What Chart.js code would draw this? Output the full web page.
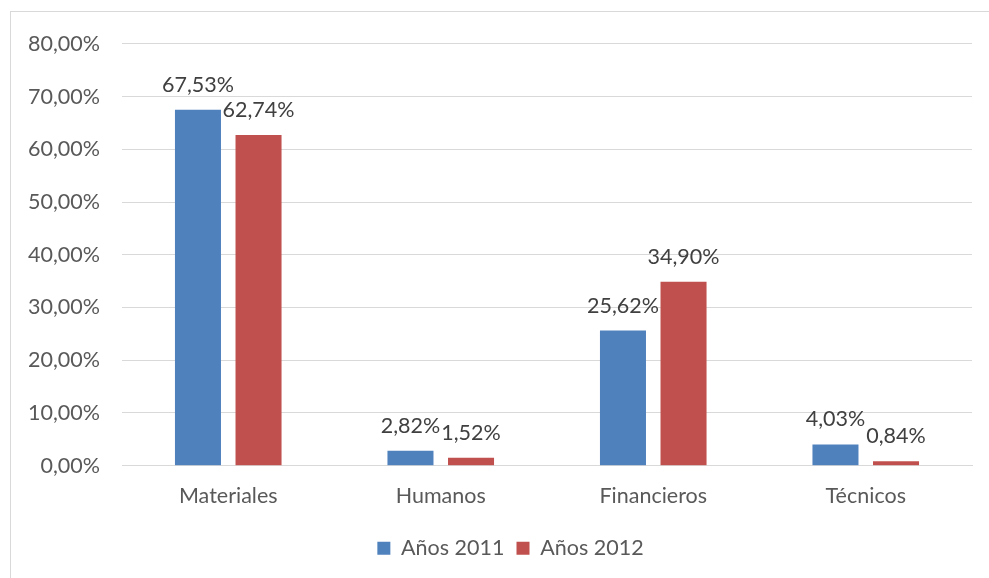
<!DOCTYPE html>
<html>
<head>
<meta charset="utf-8">
<script src="https://cdn.jsdelivr.net/npm/chart.js@4"></script>
<style>
  body { margin: 0; background: #fff; }
  #frame {
    position: absolute; left: 10px; top: 11px;
    width: 990px; height: 580px;
    border: 1px solid #d9d9d9;
  }
  #wrap { position: absolute; left: 0; top: -3px; width: 978px; height: 566px; }
</style>
</head>
<body>
<div id="frame">
  <div id="wrap"><canvas id="myChart"></canvas></div>
</div>
<script>
const categories = ['Materiales', 'Humanos', 'Financieros', 'Técnicos']
const years2011 = [67.53, 2.82, 25.62, 4.03]
const years2012 = [62.74, 1.52, 34.90, 0.84]
const seriesNames = ['Años 2011', 'Años 2012']

function fmt(v, digits) {
    return v.toFixed(digits).replace('.', ',') + '%'
}

// labels above each bar, like Excel data labels
const valueLabels = {
    id: 'valueLabels',
    afterDatasetsDraw: function(chart) {
        const ctx = chart.ctx
        ctx.save()
        ctx.font = '21.5px Lato'
        ctx.fillStyle = '#404040'
        ctx.textAlign = 'center'
        ctx.textBaseline = 'middle'
        chart.data.datasets.forEach(function(ds, i) {
            chart.getDatasetMeta(i).data.forEach(function(bar, j) {
                ctx.fillText(fmt(ds.data[j], 2), bar.x, bar.y - 25)
            })
        })
        ctx.restore()
    }
}

// legend sits a bit right of centre in the original
const legendShift = {
    id: 'legendShift',
    afterLayout: function(chart) {
        chart.legend.left += 19
        chart.legend.right += 19
    }
}

const ctx = document.getElementById('myChart').getContext('2d')
new Chart(ctx, {
    type: 'bar',
    data: {
        labels: categories,
        datasets: [{
            label: seriesNames[0],
            data: years2011,
            backgroundColor: '#4F81BD'
        }, {
            label: seriesNames[1],
            data: years2012,
            backgroundColor: '#C0504D'
        }]
    },
    options: {
        responsive: true,
        maintainAspectRatio: false,
        animation: false,
        categoryPercentage: 0.57,
        barPercentage: 0.76,
        layout: {
            padding: { left: 0, right: 17, top: 15, bottom: 6 }
        },
        scales: {
            y: {
                min: 0,
                max: 80,
                ticks: {
                    stepSize: 10,
                    padding: 22,
                    color: '#595959',
                    font: { family: 'Lato', size: 21.5 },
                    callback: function(v) { return fmt(v, 2) }
                },
                grid: { color: '#d9d9d9', drawTicks: false },
                border: { display: false },
                afterFit: function(axis) { axis.width = 111 }
            },
            x: {
                ticks: {
                    padding: 17,
                    color: '#595959',
                    font: { family: 'Lato', size: 21.5 }
                },
                grid: { display: false, drawTicks: false },
                border: { color: '#d9d9d9' }
            }
        },
        plugins: {
            legend: {
                position: 'bottom',
                labels: {
                    boxWidth: 13,
                    boxHeight: 13,
                    padding: 12,
                    color: '#595959',
                    font: { family: 'Lato', size: 21.5 }
                }
            },
            tooltip: { enabled: false }
        }
    },
    plugins: [valueLabels, legendShift]
})
</script>
</body>
</html>
